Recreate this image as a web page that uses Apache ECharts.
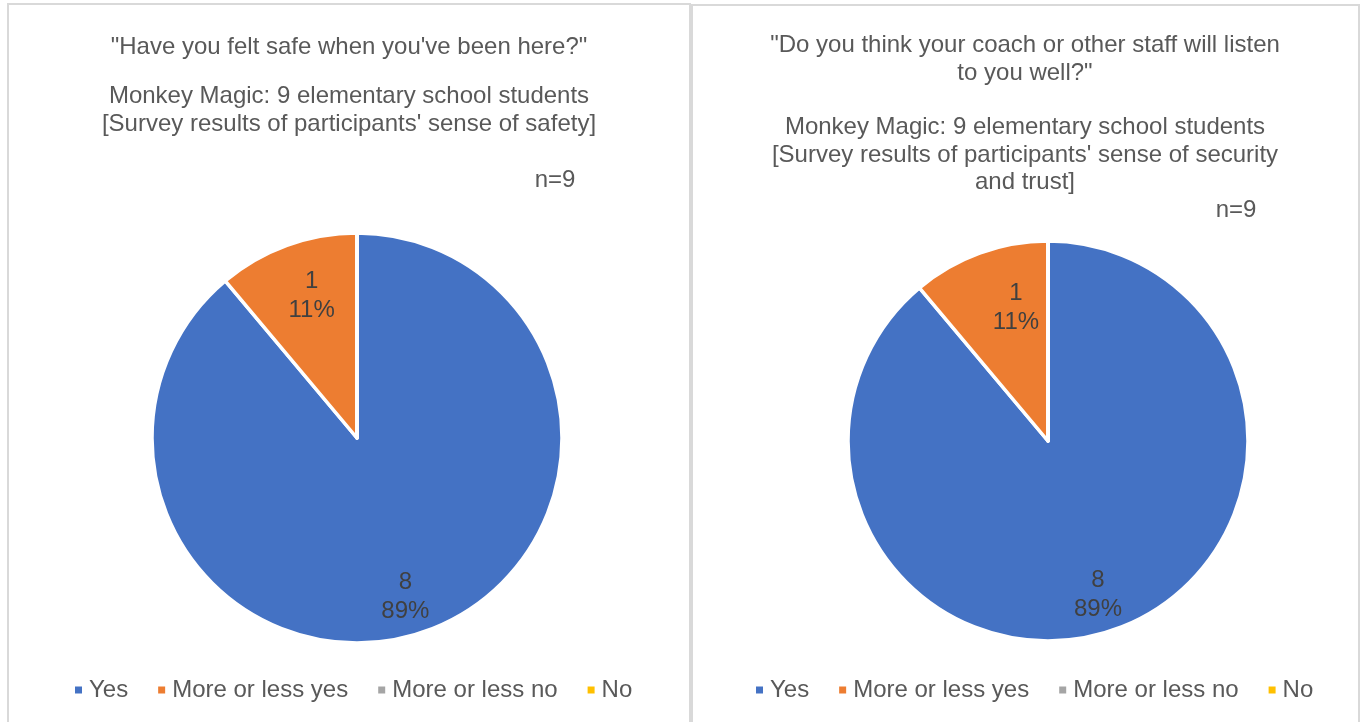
<!DOCTYPE html>
<html>
<head>
<meta charset="utf-8">
<script src="https://cdn.jsdelivr.net/npm/echarts@6/dist/echarts.min.js"></script>
<style>
  html, body { margin: 0; padding: 0; background: #ffffff; }
  #chart { width: 1368px; height: 722px; }
</style>
</head>
<body>
<div id="chart"></div>
<script>
// Survey answer categories and counts for each question
const categories = ['Yes', 'More or less yes', 'More or less no', 'No'];
const safetyCounts = [8, 1, 0, 0];
const listenCounts = [8, 1, 0, 0];
const sliceColors = ['#4472C4', '#ED7D31', '#A5A5A5', '#FFC000'];

// Heading texts
const safetyQuestion = '"Have you felt safe when you\'ve been here?"';
const safetyCaption = "Monkey Magic: 9 elementary school students\n[Survey results of participants' sense of safety]";
const listenQuestion = '"Do you think your coach or other staff will listen\nto you well?"';
const listenCaption = "Monkey Magic: 9 elementary school students\n[Survey results of participants' sense of security\nand trust]";
const sampleNote = 'n=9';

const FONT = '"Liberation Sans", Arial, sans-serif';
const FONT_SIZE = 24;
const TEXT_GREY = '#595959';
const LABEL_GREY = '#404040';

// Small nudges for the count/percent labels, per slice (Yes, More or less yes)
const labelNudge = [
  [[-7, 7], [10, 10]],
  [[-4, 5], [22, 15]]
];

// Solid pie slices (no labels)
function sliceData(counts) {
  return counts.map((v, i) => ({
    name: categories[i],
    value: v,
    itemStyle: { color: sliceColors[i] }
  }));
}

// Transparent ring carrying the "count / percent" labels further out along each slice
function labelData(counts) {
  return counts.map((v, i) => ({
    name: categories[i],
    value: v,
    label: { show: v > 0 }
  }));
}

function pieSeries(counts, center, radius, panel) {
  return [
    {
      type: 'pie',
      center: center,
      radius: radius,
      startAngle: 90,
      clockwise: true,
      data: sliceData(counts),
      label: { show: false },
      labelLine: { show: false },
      itemStyle: { borderColor: '#ffffff', borderWidth: 3.5 },
      emphasis: { disabled: true },
      animation: false
    },
    {
      type: 'pie',
      center: center,
      radius: [radius * 0.55, radius],
      startAngle: 90,
      clockwise: true,
      silent: true,
      percentPrecision: 0,
      data: labelData(counts),
      itemStyle: { color: 'rgba(0,0,0,0)', borderWidth: 0 },
      label: {
        position: 'inside',
        formatter: '{c}\n{d}%',
        fontSize: FONT_SIZE,
        lineHeight: 29,
        color: LABEL_GREY,
        fontFamily: FONT
      },
      labelLayout: function (p) {
        const n = labelNudge[panel][p.dataIndex] || [0, 0];
        return { dx: n[0], dy: n[1] };
      },
      labelLine: { show: false },
      emphasis: { disabled: true },
      animation: false
    }
  ];
}

function headingText(text, x, y, lineHeight) {
  return {
    type: 'text',
    x: x,
    y: y,
    style: {
      text: text,
      fill: TEXT_GREY,
      font: FONT_SIZE + 'px ' + FONT,
      textAlign: 'center',
      textVerticalAlign: 'top',
      lineHeight: lineHeight
    }
  };
}

function legendFor(left) {
  return {
    data: categories,
    left: left,
    top: 678,
    orient: 'horizontal',
    icon: 'rect',
    itemWidth: 9,
    itemHeight: 9,
    itemGap: 28,
    padding: 0,
    selectedMode: false,
    textStyle: {
      fontSize: FONT_SIZE,
      color: TEXT_GREY,
      fontFamily: FONT,
      padding: [0, 0, 0, 1]
    }
  };
}

const chart = echarts.init(document.getElementById('chart'), null, { renderer: 'canvas' });

chart.setOption({
  backgroundColor: '#ffffff',
  animation: false,
  legend: [legendFor(73), legendFor(754)],
  series: [
    ...pieSeries(safetyCounts, [357, 438], 205, 0),
    ...pieSeries(listenCounts, [1048, 441], 200, 1)
  ],
  graphic: [
    // Panel frames
    { type: 'rect', z: -1, shape: { x: 8, y: 4, width: 682, height: 740 },
      style: { fill: 'none', stroke: '#d9d9d9', lineWidth: 2 } },
    { type: 'rect', z: -1, shape: { x: 692, y: 5, width: 667, height: 740 },
      style: { fill: 'none', stroke: '#d9d9d9', lineWidth: 2 } },
    // Left panel headings
    headingText(safetyQuestion, 349, 33, 28),
    headingText(safetyCaption, 349, 82, 28),
    headingText(sampleNote, 555, 166, 28),
    // Right panel headings
    headingText(listenQuestion, 1025, 31, 28),
    headingText(listenCaption, 1025, 114, 27.5),
    headingText(sampleNote, 1236, 196, 28)
  ]
});
</script>
</body>
</html>
